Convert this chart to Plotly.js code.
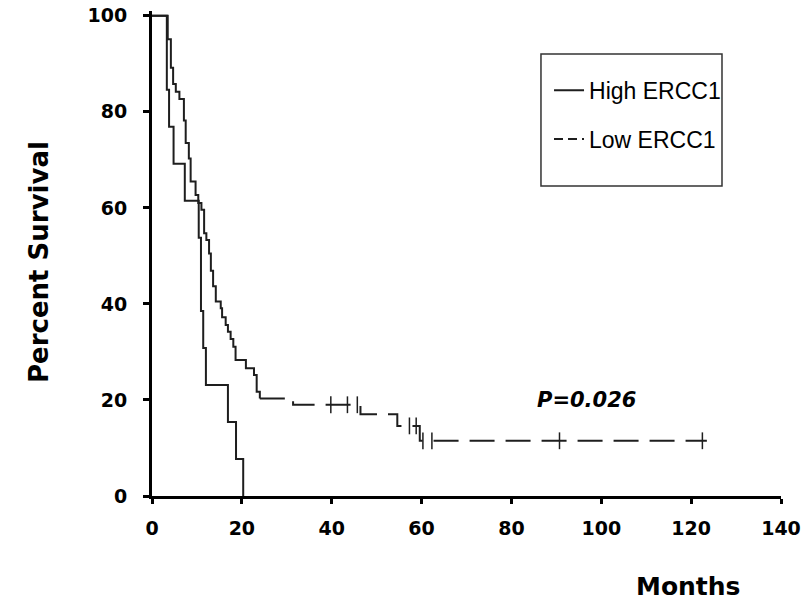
<!DOCTYPE html>
<html><head><meta charset="utf-8">
<script src="https://cdn.plot.ly/plotly-3.0.1.min.js"></script>
<style>html,body{margin:0;padding:0;background:#fff}#chart{width:805px;height:610px}</style>
</head><body><div id="chart"></div><script>
// High ERCC1 (solid) Kaplan-Meier steps
const highMonths   = [0, 3.3, 3.8, 4.8, 7.3, 10.4, 10.9, 11.4, 12.0, 16.9, 18.7, 20.3];
const highSurvival = [100, 84.6, 76.9, 69.2, 61.5, 53.8, 38.5, 30.8, 23.1, 15.4, 7.7, 0];

// Low ERCC1 (dashed) Kaplan-Meier steps
const lowMonths   = [0, 3.5, 4.2, 4.7, 5.3, 6.1, 7.1, 7.5, 8.2, 8.6, 9.7, 10.3, 11.0, 11.6, 12.1, 12.7, 13.1, 13.6, 14.2, 15.3, 15.6, 16.4, 16.9, 17.5, 18.1, 18.6, 20.9, 22.7, 23.3, 24.0, 31.4, 46.4, 54.6, 59.6, 123.5];
const lowSurvival = [100, 95.1, 89.2, 85.8, 84.2, 82.7, 78.2, 73.5, 70.3, 65.5, 62.7, 61.0, 59.6, 54.7, 53.3, 50.5, 46.9, 43.7, 40.5, 39.1, 37.2, 35.6, 34.2, 32.7, 31.1, 28.3, 26.6, 25.2, 21.7, 20.3, 19.0, 17.0, 14.6, 11.5, 11.5];

// Censored observations (Low ERCC1)
const censorMonths   = [39.8, 43.5, 45.7, 57.3, 58.8, 60.3, 62.3, 90.7, 122.5];
const censorSurvival = [19.0, 19.0, 19.0, 14.6, 14.6, 11.5, 11.5, 11.5, 11.5];

const xTicks = [0, 20, 40, 60, 80, 100, 120, 140];
const yTicks = [0, 20, 40, 60, 80, 100];
const seriesNames = ['High ERCC1', 'Low ERCC1'];
const pText = 'P=0.026';
const pPos = [96.7, 20];

const solidEnd = lowMonths.indexOf(24.0);
const lineColor = '#1e1e1e';
const tickFont = {family: 'DejaVu Sans', size: 19, color: '#000', weight: 'bold'};
const titleFont = {family: 'DejaVu Sans', size: 26, color: '#000', weight: 'bold'};

const traces = [
  {x: highMonths, y: highSurvival, mode: 'lines', line: {shape: 'hv', color: lineColor, width: 2},
   name: seriesNames[0], legendgroup: 'g1', hoverinfo: 'skip'},
  {x: lowMonths.slice(0, solidEnd + 1), y: lowSurvival.slice(0, solidEnd + 1), mode: 'lines',
   line: {shape: 'hv', color: lineColor, width: 2}, showlegend: false, hoverinfo: 'skip'},
  {x: lowMonths.slice(solidEnd), y: lowSurvival.slice(solidEnd), mode: 'lines',
   line: {shape: 'hv', color: lineColor, width: 2, dash: '25px,11px'}, showlegend: false, hoverinfo: 'skip'},
  {x: censorMonths, y: censorSurvival, mode: 'markers',
   marker: {symbol: 'line-ns-open', size: 12, color: lineColor, line: {width: 1.5, color: lineColor}}, showlegend: false, hoverinfo: 'skip'},
  {x: [null], y: [null], mode: 'lines', line: {color: lineColor, width: 2, dash: '9px,5px'},
   name: seriesNames[1], legendgroup: 'g2'}
];

const layout = {
  width: 805, height: 610,
  margin: {l: 152, r: 24, t: 11, b: 114},
  paper_bgcolor: '#fff', plot_bgcolor: '#fff',
  showlegend: true,
  xaxis: {range: [0, 140], tickvals: xTicks, ticktext: xTicks.map(String), showline: true, linewidth: 3, linecolor: '#000',
          ticks: 'outside', ticklen: 5, tickwidth: 3, tickcolor: '#000', tickfont: tickFont,
          showgrid: false, zeroline: false, ticklabelstandoff: 8, fixedrange: true},
  yaxis: {range: [0, 101], tickvals: yTicks, ticktext: yTicks.map(String), showline: true, linewidth: 3, linecolor: '#000',
          ticks: 'outside', ticklen: 6, tickwidth: 3, tickcolor: '#000', tickfont: tickFont,
          showgrid: false, zeroline: false, ticklabelstandoff: 12, fixedrange: true},
  legend: {x: 0.6312, y: 0.881, xanchor: 'left', yanchor: 'top', bgcolor: 'rgba(0,0,0,0)', borderwidth: 0,
           font: {family: 'Liberation Sans', size: 23, color: '#000'}, traceorder: 'grouped', tracegroupgap: 16},
  shapes: [
    {type: 'rect', xref: 'paper', yref: 'paper', x0: 0.6184, x1: 0.9062, y0: 0.6392, y1: 0.9113,
     line: {color: '#333', width: 1.5}, fillcolor: 'rgba(0,0,0,0)'}
  ],
  annotations: [
    {text: 'Percent Survival', xref: 'paper', yref: 'paper', x: -0.1797, y: 0.4825, xanchor: 'center', yanchor: 'middle',
     textangle: -90, showarrow: false, font: titleFont},
    {text: 'Months', xref: 'paper', yref: 'paper', x: 0.852, y: -0.1856, xanchor: 'center', yanchor: 'middle', showarrow: false,
     font: {family: 'DejaVu Sans', size: 25, color: '#000', weight: 'bold'}},
    {text: pText, xref: 'x', yref: 'y', x: pPos[0], y: pPos[1], xanchor: 'center', yanchor: 'middle', showarrow: false,
     font: {family: 'DejaVu Sans', size: 21, color: '#000', weight: 'bold', style: 'italic'}}
  ]
};

Plotly.newPlot('chart', traces, layout, {displayModeBar: false, staticPlot: true});
</script></body></html>
